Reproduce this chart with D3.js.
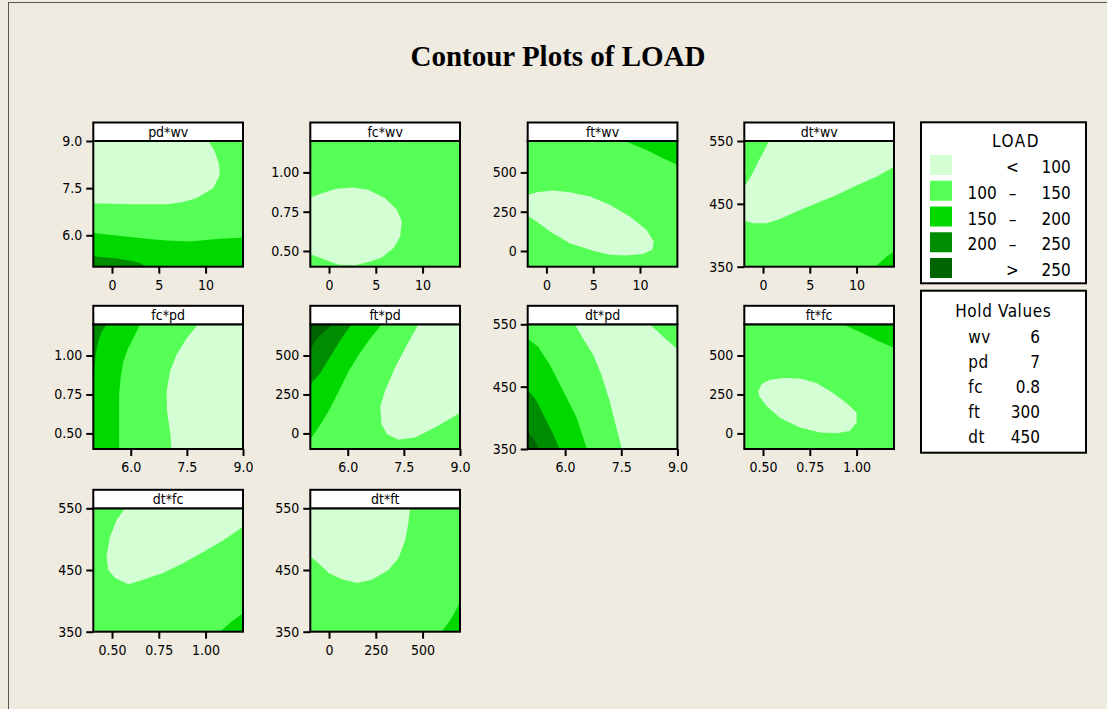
<!DOCTYPE html>
<html><head><meta charset="utf-8">
<script src="https://cdn.jsdelivr.net/npm/d3@7"></script>
<style>
html,body{margin:0;padding:0;background:#efebe1;}
svg{display:block;}
</style></head><body>
<svg id="chart" width="1107" height="709"></svg>
<script>
// LOAD bands, lowest to highest
const bandColors = ["#d4ffd4", "#55ff55", "#00d800", "#008c00", "#006400"];
const bandLow  = ["", "100", "150", "200", ""];
const bandSep  = ["<", "–", "–", "–", ">"];
const bandHigh = ["100", "150", "200", "250", "250"];

// factors held fixed in each panel
const holdNames  = ["wv", "pd", "fc", "ft", "dt"];
const holdValues = ["6", "7", "0.8", "300", "450"];

// factor ranges and axis ticks
const factorNames  = ["wv", "pd", "fc", "ft", "dt"];
const factorMin    = [-2, 5, 0.4, -100, 350];
const factorMax    = [14, 9, 1.2, 700, 550];
const factorTicks  = [[0, 5, 10], [6, 7.5, 9], [0.5, 0.75, 1.0], [0, 250, 500], [350, 450, 550]];
const factorFormat = ["d", ".1f", ".2f", "d", "d"];

// panel order: (y factor) * (x factor)
const panelX    = ["wv", "wv", "wv", "wv", "pd", "pd", "pd", "fc", "fc", "ft"];
const panelY    = ["pd", "fc", "ft", "dt", "fc", "ft", "dt", "ft", "dt", "dt"];
const panelBase = [1, 1, 1, 1, 0, 1, 0, 1, 1, 1];

// band regions per panel, as [x, y] boundary points in factor units
const pdWv = [
  {level: 0, pts: [[-2,9],[10.3,9],[11.0,8.66],[11.45,8.25],[11.5,7.9],[10.8,7.5],[9.0,7.18],[7.5,7.05],[5.8,6.99],[2,6.99],[-2,7.02]]},
  {level: 2, pts: [[-2,6.07],[1.2,5.97],[4,5.88],[5.8,5.83],[8.3,5.80],[11.2,5.88],[14,5.93],[14,5],[-2,5]]},
  {level: 3, pts: [[-2,5.33],[0.5,5.26],[2,5.19],[3.0,5.12],[3.7,5.0],[-2,5]]}
];
const fcWv = [
  {level: 0, pts: [[-2,0.84],[-0.75,0.868],[0.67,0.895],[2.45,0.904],[4.2,0.889],[6.0,0.836],[7.25,0.762],[7.78,0.688],[7.6,0.592],[6.9,0.519],[5.65,0.459],[4.2,0.43],[2.8,0.41],[1.0,0.412],[-0.4,0.444],[-2,0.48]]}
];
const ftWv = [
  {level: 0, pts: [[-2,357],[-1.04,374],[0.73,385],[2.51,374],[4.65,346],[6.78,294],[8.91,219],[10.7,135],[11.47,61],[11.33,8],[10.33,-19],[8.56,-28],[6.78,-24],[5.0,2],[2.51,50],[0.38,124],[-1.04,188],[-2,224]]},
  {level: 2, pts: [[8.38,700],[10.7,643],[12.46,590],[14,548],[14,700]]}
];
const dtWv = [
  {level: 0, pts: [[0.67,550],[14,550],[14,509],[12.12,493],[9.99,479],[7.86,464],[5.72,451],[3.59,438],[1.81,426],[0.39,419],[-1.04,419],[-2,423],[-2,477],[-1.21,496],[-0.33,522]]},
  {level: 2, pts: [[12.0,350],[13.2,366],[14,374],[14,350]]}
];
const fcPd = [
  {level: 1, pts: [[5,1.2],[7.8,1.2],[7.49,1.109],[7.22,1.003],[7.05,0.897],[6.96,0.77],[6.97,0.643],[7.05,0.516],[7.09,0.4],[5,0.4]]},
  {level: 2, pts: [[5,1.2],[6.25,1.2],[6.11,1.13],[5.93,1.046],[5.8,0.96],[5.73,0.855],[5.69,0.749],[5.69,0.622],[5.69,0.4],[5,0.4]]},
  {level: 3, pts: [[5,1.2],[5.36,1.2],[5.22,1.151],[5.13,1.088],[5.07,1.014],[5.03,0.908],[5,0.88]]}
];
const ftPd = [
  {level: 0, pts: [[7.89,700],[7.58,567],[7.27,425],[7.0,275],[6.87,171],[6.9,59],[7.05,-5],[7.35,-41],[7.8,-26],[8.33,38],[8.78,101],[9,133],[9,700]]},
  {level: 2, pts: [[5,700],[6.91,700],[6.6,609],[6.29,503],[6.02,397],[5.76,270],[5.49,143],[5.22,38],[5.03,-26],[5,-35]]},
  {level: 3, pts: [[5,700],[6.11,700],[5.89,630],[5.67,546],[5.45,461],[5.27,387],[5.03,323],[5,320]]},
  {level: 4, pts: [[5,700],[5.62,700],[5.4,662],[5.18,609],[5.03,546],[5,540]]}
];
const dtPd = [
  {level: 1, pts: [[5,550],[6.26,550],[6.48,527],[6.75,501],[6.97,469],[7.19,427],[7.37,384],[7.51,352],[7.52,350],[5,350]]},
  {level: 1, pts: [[8.26,550],[8.62,530],[9,510],[9,550]]},
  {level: 2, pts: [[5,527],[5.28,514],[5.59,485],[5.95,443],[6.31,400],[6.57,352],[6.58,350],[5,350]]},
  {level: 3, pts: [[5,445],[5.24,427],[5.46,400],[5.68,374],[5.84,352],[5.85,350],[5,350]]},
  {level: 4, pts: [[5,379],[5.19,363],[5.28,352],[5.29,350],[5,350]]}
];
const ftFc = [
  {level: 0, pts: [[0.475,270],[0.493,317],[0.537,344],[0.608,355],[0.697,353],[0.786,323],[0.875,260],[0.955,186],[1.0,133],[1.0,70],[0.964,16],[0.893,1],[0.804,6],[0.697,38],[0.59,101],[0.52,175],[0.48,238]]},
  {level: 2, pts: [[0.928,700],[1.035,641],[1.124,588],[1.2,550],[1.2,700]]}
];
const dtFc = [
  {level: 0, pts: [[0.569,550],[0.525,531],[0.489,504],[0.471,472],[0.48,450],[0.516,437],[0.587,427],[0.667,434],[0.773,445],[0.88,461],[0.987,479],[1.093,498],[1.2,520],[1.2,550]]},
  {level: 2, pts: [[1.076,350],[1.138,366],[1.2,380],[1.2,350]]}
];
const dtFt = [
  {level: 0, pts: [[-100,550],[-100,472],[-56,461],[-2,445],[69,435],[149,429],[229,434],[318,450],[371,469],[407,498],[424,526],[433,550]]},
  {level: 2, pts: [[602,350],[647,368],[673,382],[700,398],[700,350]]}
];
const panelBands = [pdWv, fcWv, ftWv, dtWv, fcPd, ftPd, dtPd, ftFc, dtFc, dtFt];

// page layout
const colX = [93.3, 310.3, 527.7, 744.3];
const rowY = [141, 324.3, 508.3];
const rowH = [125.7, 124.7, 123.4];
const plotW = 149.7;
const headH = 18.5;
const sans = "'DejaVu Sans Condensed', 'Liberation Sans', Arial, sans-serif";

const svg = d3.select("#chart");
svg.append("rect").attr("x", 8.5).attr("y", 2.5).attr("width", 1200).attr("height", 800)
  .attr("fill", "#efebe1").attr("stroke", "#555").attr("stroke-width", 1);

svg.append("text").attr("x", 558).attr("y", 66).attr("text-anchor", "middle")
  .attr("font-family", "'Liberation Serif', 'Times New Roman', serif")
  .attr("font-weight", "bold").attr("font-size", 29).attr("fill", "#000")
  .text("Contour Plots of LOAD");

const fIdx = name => factorNames.indexOf(name);

panelBands.forEach((bands, i) => {
  const r = Math.floor(i / 4), c = i % 4;
  const x0 = colX[c], y0 = rowY[r], h = rowH[r];
  const fx = fIdx(panelX[i]), fy = fIdx(panelY[i]);
  const x = d3.scaleLinear().domain([factorMin[fx], factorMax[fx]]).range([x0, x0 + plotW]);
  const y = d3.scaleLinear().domain([factorMin[fy], factorMax[fy]]).range([y0 + h, y0]);

  const g = svg.append("g");
  const clipId = "clip" + i;
  g.append("clipPath").attr("id", clipId).append("rect")
    .attr("x", x0).attr("y", y0).attr("width", plotW).attr("height", h);

  const area = g.append("g").attr("clip-path", `url(#${clipId})`);
  area.append("rect").attr("x", x0).attr("y", y0).attr("width", plotW).attr("height", h)
    .attr("fill", bandColors[panelBase[i]]);
  const line = d3.line().x(d => x(d[0])).y(d => y(d[1])).curve(d3.curveLinearClosed);
  area.selectAll("path.band").data(bands).join("path").attr("class", "band")
    .attr("d", d => line(d.pts)).attr("fill", d => bandColors[d.level]);

  g.append("rect").attr("x", x0).attr("y", y0).attr("width", plotW).attr("height", h)
    .attr("fill", "none").attr("stroke", "#000").attr("stroke-width", 2);

  g.append("rect").attr("x", x0).attr("y", y0 - headH).attr("width", plotW).attr("height", headH)
    .attr("fill", "#fff").attr("stroke", "#000").attr("stroke-width", 2);
  g.append("text").attr("x", x0 + plotW / 2).attr("y", y0 - 4).attr("text-anchor", "middle")
    .attr("font-family", sans).attr("font-size", 14).attr("fill", "#000")
    .text(panelY[i] + "*" + panelX[i]);

  const yAxis = d3.axisLeft(y).tickValues(factorTicks[fy]).tickSize(7).tickPadding(4)
    .tickFormat(d3.format(factorFormat[fy]));
  const xAxis = d3.axisBottom(x).tickValues(factorTicks[fx]).tickSize(7).tickPadding(6)
    .tickFormat(d3.format(factorFormat[fx]));
  const ya = g.append("g").attr("transform", `translate(${x0},0)`).call(yAxis);
  const xa = g.append("g").attr("transform", `translate(0,${y0 + h})`).call(xAxis);
  [ya, xa].forEach(a => {
    a.select(".domain").remove();
    a.selectAll(".tick line").attr("stroke", "#000").attr("stroke-width", 2);
    a.selectAll(".tick text").attr("font-family", sans).attr("font-size", 14).attr("fill", "#000");
  });
});

// legend of LOAD bands
const lg = svg.append("g");
lg.append("rect").attr("x", 921).attr("y", 122.3).attr("width", 165).attr("height", 161)
  .attr("fill", "#fff").attr("stroke", "#000").attr("stroke-width", 2);
lg.append("text").attr("x", 1016).attr("y", 147.3).attr("text-anchor", "middle")
  .attr("font-family", sans).attr("font-size", 17).attr("letter-spacing", 1.5).text("LOAD");
const legY = d3.scaleLinear().domain([0, 4]).range([155, 258]);
bandColors.forEach((col, k) => {
  const yy = legY(k);
  lg.append("rect").attr("x", 930).attr("y", yy).attr("width", 22).attr("height", 20).attr("fill", col);
  const t = (xx, anchor, s) => lg.append("text").attr("x", xx).attr("y", yy + 18)
    .attr("text-anchor", anchor).attr("font-family", sans).attr("font-size", 17).text(s);
  t(996.7, "end", bandLow[k]);
  t(1012.5, "middle", bandSep[k]);
  t(1070.7, "end", bandHigh[k]);
});

// hold values box
const hg = svg.append("g");
hg.append("rect").attr("x", 921).attr("y", 290.7).attr("width", 165).attr("height", 162)
  .attr("fill", "#fff").attr("stroke", "#000").attr("stroke-width", 2);
hg.append("text").attr("x", 1003.3).attr("y", 316.7).attr("text-anchor", "middle")
  .attr("font-family", sans).attr("font-size", 17).attr("letter-spacing", 0.6).text("Hold Values");
const holdY = d3.scaleLinear().domain([0, 4]).range([343, 443.3]);
holdNames.forEach((n, k) => {
  hg.append("text").attr("x", 968.3).attr("y", holdY(k)).attr("font-family", sans)
    .attr("font-size", 17).attr("letter-spacing", 0.5).text(n);
  hg.append("text").attr("x", 1040).attr("y", holdY(k)).attr("text-anchor", "end")
    .attr("font-family", sans).attr("font-size", 17).text(holdValues[k]);
});
</script>
</body></html>
